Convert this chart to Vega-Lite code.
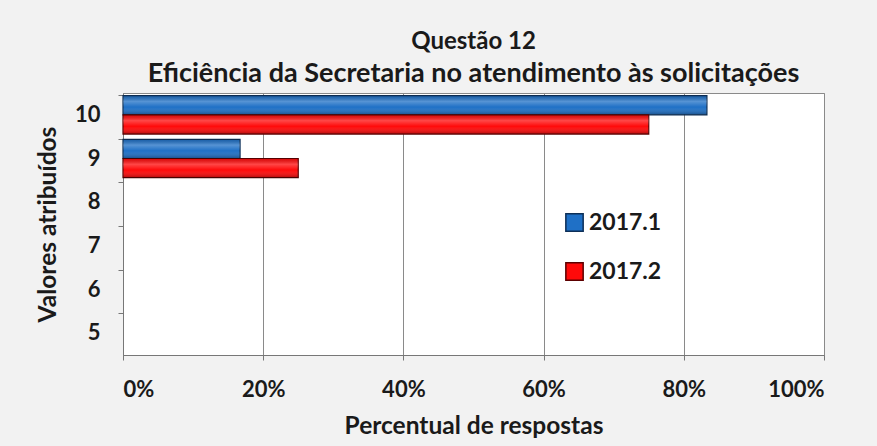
{
  "$schema": "https://vega.github.io/schema/vega-lite/v6.json",
  "width": 701,
  "height": 262,
  "autosize": {"type": "none"},
  "padding": {"left": 123, "top": 93, "right": 53, "bottom": 91},
  "background": "#f2f2f2",
  "title": {
    "text": "Questão 12",
    "subtitle": "Eficiência da Secretaria no atendimento às solicitações",
    "anchor": "middle",
    "font": "Lato",
    "fontSize": 24,
    "fontWeight": "bold",
    "color": "#1a1a1a",
    "subtitleFont": "Lato",
    "subtitleFontSize": 27,
    "subtitleFontWeight": "bold",
    "subtitleColor": "#1a1a1a",
    "subtitlePadding": 7,
    "offset": 6
  },
  "data": {
    "values": [
      {"valor": "10", "serie": "2017.1", "pct": 0.833},
      {"valor": "10", "serie": "2017.2", "pct": 0.75},
      {"valor": "9", "serie": "2017.1", "pct": 0.167},
      {"valor": "9", "serie": "2017.2", "pct": 0.25}
    ]
  },
  "encoding": {
    "y": {
      "field": "valor",
      "type": "nominal",
      "scale": {"domain": ["10", "9", "8", "7", "6", "5"], "paddingInner": 0.12, "paddingOuter": 0.06},
      "axis": {
        "title": "Valores atribuídos",
        "titleFont": "Lato",
        "titleFontSize": 24.5,
        "titleFontWeight": "bold",
        "titleColor": "#1a1a1a",
        "titlePadding": 14,
        "labelFont": "Lato",
        "labelFontSize": 22,
        "labelFontWeight": "bold",
        "labelColor": "#1a1a1a",
        "labelPadding": 18,
        "bandPosition": 0,
        "tickSize": 5,
        "tickColor": "#777777",
        "domainColor": "#777777",
        "grid": false
      }
    },
    "yOffset": {"field": "serie", "type": "nominal", "sort": ["2017.1", "2017.2"]},
    "x": {
      "field": "pct",
      "type": "quantitative",
      "scale": {"domain": [0, 1], "nice": false},
      "axis": {
        "title": "Percentual de respostas",
        "titleFont": "Lato",
        "titleFontSize": 24.5,
        "titleFontWeight": "bold",
        "titleColor": "#1a1a1a",
        "titlePadding": 14,
        "format": ".0%",
        "values": [0, 0.2, 0.4, 0.6, 0.8, 1],
        "labelFont": "Lato",
        "labelFontSize": 22,
        "labelFontWeight": "bold",
        "labelColor": "#1a1a1a",
        "labelPadding": 19,
        "tickSize": 5,
        "tickColor": "#777777",
        "domainColor": "#777777",
        "grid": true,
        "gridColor": "#8a8a8a",
        "gridWidth": 1
      }
    }
  },
  "layer": [
    {
      "mark": {"type": "bar", "strokeWidth": 1.2},
      "encoding": {
        "color": {
          "field": "serie",
          "type": "nominal",
          "scale": {"domain": ["2017.1", "2017.2"], "range": ["#1f70c6", "#ff0a0a"]},
          "legend": {
            "title": null,
            "orient": "none",
            "legendX": 440,
            "legendY": 118,
            "symbolType": "square",
            "symbolSize": 300,
            "symbolStrokeColor": "#222222",
            "symbolStrokeWidth": 1.5,
            "labelFont": "Lato",
            "labelFontSize": 23,
            "labelFontWeight": "bold",
            "labelColor": "#1a1a1a",
            "labelOffset": 3,
            "rowPadding": 24
          }
        },
        "stroke": {
          "field": "serie",
          "type": "nominal",
          "scale": {"domain": ["2017.1", "2017.2"], "range": ["#0d2f57", "#5c0000"]},
          "legend": null
        }
      }
    },
    {
      "mark": {
        "type": "bar",
        "fill": {
          "gradient": "linear",
          "x1": 0, "y1": 0, "x2": 0, "y2": 1,
          "stops": [
            {"offset": 0, "color": "rgba(0,0,0,0.15)"},
            {"offset": 0.3, "color": "rgba(255,255,255,0.25)"},
            {"offset": 0.6, "color": "rgba(255,255,255,0)"},
            {"offset": 1, "color": "rgba(0,0,0,0.3)"}
          ]
        },
        "strokeWidth": 0
      }
    }
  ],
  "config": {
    "view": {"fill": "white", "stroke": "#8a8a8a", "strokeWidth": 1}
  }
}
